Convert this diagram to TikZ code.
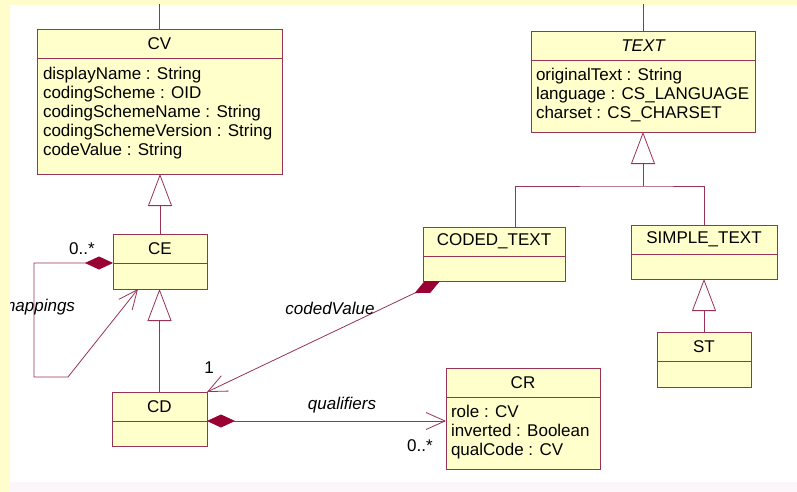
\documentclass[tikz,border=0pt]{standalone}
\usepackage{fontspec}
\setmainfont{Liberation Sans}
\usepackage{tikz}
\usetikzlibrary{arrows.meta}
\usetikzlibrary{positioning}
\definecolor{umlbg}{RGB}{255,253,204}
\definecolor{umlfill}{RGB}{255,255,204}
\definecolor{umlline}{RGB}{153,51,85}
\definecolor{umldia}{RGB}{153,0,51}
\definecolor{umlfoot}{RGB}{252,245,250}
\tikzstyle{umlbox}=[draw=umlline, fill=umlfill, line width=0.8pt, inner sep=0, outer sep=0]
\tikzstyle{ctitle}=[umlbox, minimum height=29pt, anchor=north west]
\tikzstyle{cbody}=[umlbox]
\tikzstyle{attrs}=[anchor=north west, align=left, inner sep=0, outer sep=0]
\tikzstyle{link}=[draw=umlline, line width=0.8pt]
\tikzstyle{inherit}=[link, -{Triangle[open, length=32pt, width=24pt]}]
\tikzstyle{assoc}=[link, {Diamond[length=28pt, width=13pt, color=umldia, fill=umldia]}-{Straight Barb[length=19pt, width=17pt]}]
\tikzstyle{rolelbl}=[inner sep=0, outer sep=0]

\begin{document}
\begin{tikzpicture}[x=1pt, y=-1pt, font=\fontsize{17pt}{19pt}\selectfont]
    \fill[umlbg] (0,0) rectangle (797,492);
    \fill[white] (10,5) rectangle (797,482);
    \fill[umlfoot] (10,482) rectangle (797,492);
    \useasboundingbox (0,0) rectangle (797,492);
    \begin{scope}
        \clip (10,5) rectangle (797,482);
        % classes
        \node[ctitle, minimum width=245pt] (CV) at (37,29) {CV};
        \node[cbody, minimum width=245pt, minimum height=116pt, below=0pt of CV] (CVb) {};
        \node[attrs] (CVt) at ([shift={(6pt,-9pt)}]CVb.north west)
            {displayName : String\\codingScheme : OID\\codingSchemeName : String\\codingSchemeVersion : String\\codeValue : String};
        \node[ctitle, minimum width=224pt] (TXT) at (531,31) {\itshape TEXT};
        \node[cbody, minimum width=224pt, minimum height=72pt, below=0pt of TXT] (TXTb) {};
        \node[attrs] (TXTt) at ([shift={(5pt,-8pt)}]TXTb.north west)
            {originalText : String\\language : CS\_LANGUAGE\\charset : CS\_CHARSET};
        \node[ctitle, minimum width=94pt] (CE) at (113,234) {CE};
        \node[cbody, minimum width=94pt, minimum height=26pt, below=0pt of CE] (CEb) {};
        \node[ctitle, minimum width=95pt] (CD) at (112,392) {CD};
        \node[cbody, minimum width=95pt, minimum height=25pt, below=0pt of CD] (CDb) {};
        \node[ctitle, minimum width=142pt] (CT) at (423,227) {CODED\_TEXT};
        \node[cbody, minimum width=142pt, minimum height=25pt, below=0pt of CT] (CTb) {};
        \node[ctitle, minimum width=146pt] (SMP) at (631,225) {SIMPLE\_TEXT};
        \node[cbody, minimum width=146pt, minimum height=25pt, below=0pt of SMP] (SMPb) {};
        \node[ctitle, minimum width=94pt] (ST) at (657,332) {ST};
        \node[cbody, minimum width=94pt, minimum height=26pt, below=0pt of ST] (STb) {};
        \node[ctitle, minimum width=154pt] (CR) at (446,368) {CR};
        \node[cbody, minimum width=154pt, minimum height=72pt, below=0pt of CR] (CRb) {};
        \node[attrs] (CRt) at ([shift={(5pt,-8pt)}]CRb.north west)
            {role : CV\\inverted : Boolean\\qualCode : CV};
        % generalisations
        \draw[link] (CV.north) -- ++(0,-30);
        \draw[link] (TXT.north) -- ++(0,-30);
        \draw[inherit] (CE.north) -- (CE.north |- CVb.south);
        \draw[inherit] (CD.north) -- (CD.north |- CEb.south);
        \coordinate (tj) at (643,186);
        \draw[link] ([xshift=21pt]CT.north) |- (tj) -| (SMP.north);
        \draw[inherit] (tj) -- (TXTb.south);
        \draw[inherit] (ST.north) -- (ST.north |- SMPb.south);
        % associations
        \coordinate (m1) at (34,377);
        \coordinate (m2) at (68,377);
        \draw[assoc] (CE.south west) -| (m1) -- (m2) -- ([xshift=25pt]CEb.south west);
        \draw[assoc] ([xshift=17pt]CTb.south west) -- (CD.north east);
        \draw[assoc] (CD.south east) -- (CD.south east -| CRb.west);
        % role names
        \node[rolelbl] (mapn) at (82,249) {0..*};
        \node[rolelbl, anchor=east] (mapl) at (75,307) {\itshape mappings};
        \node[rolelbl] (cvl) at (330,308) {\itshape codedValue};
        \node[rolelbl] (cvn) at (209,368) {1};
        \node[rolelbl] (qul) at (342,405) {\itshape qualifiers};
        \node[rolelbl] (qun) at (420,446) {0..*};
    \end{scope}
\end{tikzpicture}
\end{document}
